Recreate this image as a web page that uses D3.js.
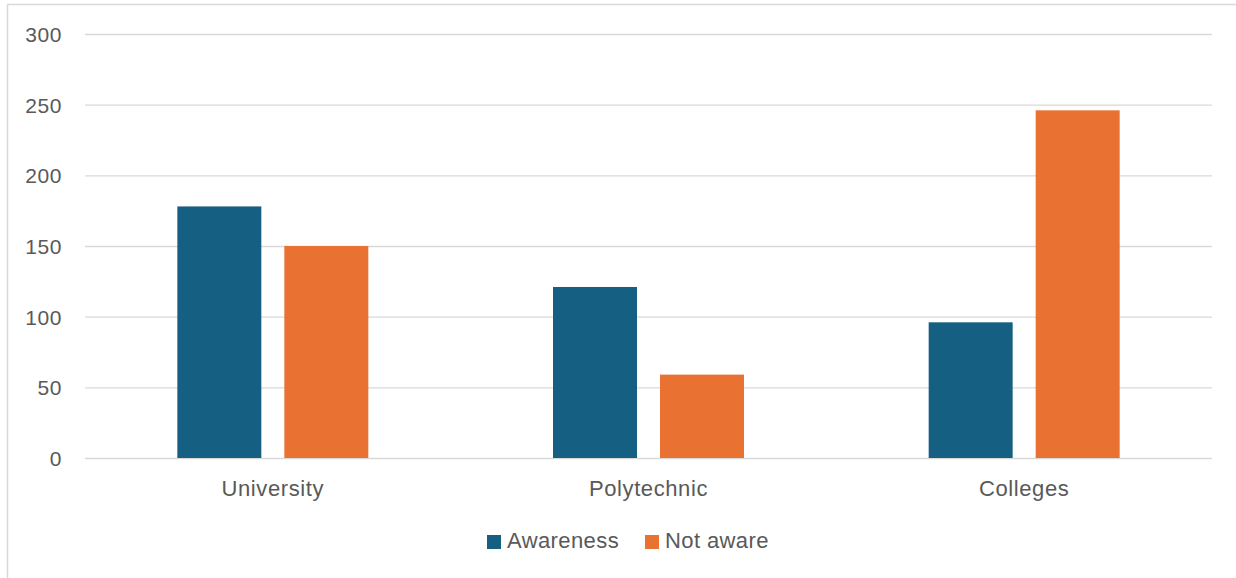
<!DOCTYPE html>
<html>
<head>
<meta charset="utf-8">
<script src="https://cdn.jsdelivr.net/npm/d3@7"></script>
<style>
  html, body { margin: 0; padding: 0; background: #fff; }
  svg { display: block; }
  text { font-family: "Liberation Sans", Arial, sans-serif; fill: #595959; }
</style>
</head>
<body>
<svg id="chart" width="1236" height="578"></svg>
<script>
const categories = ["University", "Polytechnic", "Colleges"];
const seriesNames = ["Awareness", "Not aware"];
const awareness = [178, 121, 96];
const notAware = [150, 59, 246];
const yTicks = [0, 50, 100, 150, 200, 250, 300];
const colors = ["#156082", "#E97132"];

const svg = d3.select("#chart");
const plotLeft = 85, plotRight = 1212, plotTop = 34, plotBottom = 458;

// outer border
svg.append("rect")
  .attr("x", 7.5).attr("y", 4.5)
  .attr("width", 1260).attr("height", 620)
  .attr("fill", "none").attr("stroke", "#d9d9d9").attr("stroke-width", 1.5);

const y = d3.scaleLinear().domain([0, 300]).range([plotBottom, plotTop]);
const x0 = d3.scaleBand().domain(categories).range([plotLeft, plotRight]).paddingInner(0).paddingOuter(0);

// gridlines
const grid = svg.append("g").attr("transform", `translate(${plotLeft},0)`)
  .call(d3.axisLeft(y).tickValues(yTicks).tickSize(-(plotRight - plotLeft)).tickFormat(""));
grid.select(".domain").remove();
grid.selectAll("line").attr("stroke", "#d9d9d9").attr("stroke-width", 1.3);

// y labels
const yAxis = svg.append("g").attr("transform", `translate(62,0)`)
  .call(d3.axisLeft(y).tickValues(yTicks).tickSize(0).tickPadding(0));
yAxis.select(".domain").remove();
yAxis.selectAll("text")
  .attr("font-size", 21).attr("fill", "#595959")
  .attr("letter-spacing", 0.6)
  .style("font-family", '"Liberation Sans", Arial, sans-serif')
  .attr("dy", "0.36em");

// bars
const groupW = x0.bandwidth() * 0.5084;
const data = categories.map((c, i) => ({ cat: c, values: [awareness[i], notAware[i]] }));

const x1 = d3.scaleBand().domain(seriesNames).range([-groupW / 2, groupW / 2]).paddingInner(0.215).paddingOuter(0);

const groups = svg.append("g").selectAll("g").data(data).join("g")
  .attr("transform", d => `translate(${x0(d.cat) + x0.bandwidth() / 2},0)`);

groups.selectAll("rect").data(d => d.values.map((v, j) => ({ s: seriesNames[j], v, j })))
  .join("rect")
  .attr("x", d => x1(d.s))
  .attr("width", x1.bandwidth())
  .attr("y", d => y(d.v))
  .attr("height", d => y(0) - y(d.v))
  .attr("fill", d => colors[d.j]);

// category labels
svg.append("g").selectAll("text").data(categories).join("text")
  .attr("x", d => x0(d) + x0.bandwidth() / 2)
  .attr("y", 496)
  .attr("text-anchor", "middle")
  .attr("font-size", 22)
  .attr("letter-spacing", 0.6)
  .text(d => d);

// legend
const legendX = [487, 645];
const lg = svg.append("g").selectAll("g").data(seriesNames).join("g")
  .attr("transform", (d, i) => `translate(${legendX[i]},535)`);
lg.append("rect").attr("width", 14).attr("height", 14).attr("fill", (d, i) => colors[i]);
lg.append("text").attr("x", 20).attr("y", 13).attr("font-size", 22).attr("letter-spacing", 0.4).text(d => d);
</script>
</body>
</html>
